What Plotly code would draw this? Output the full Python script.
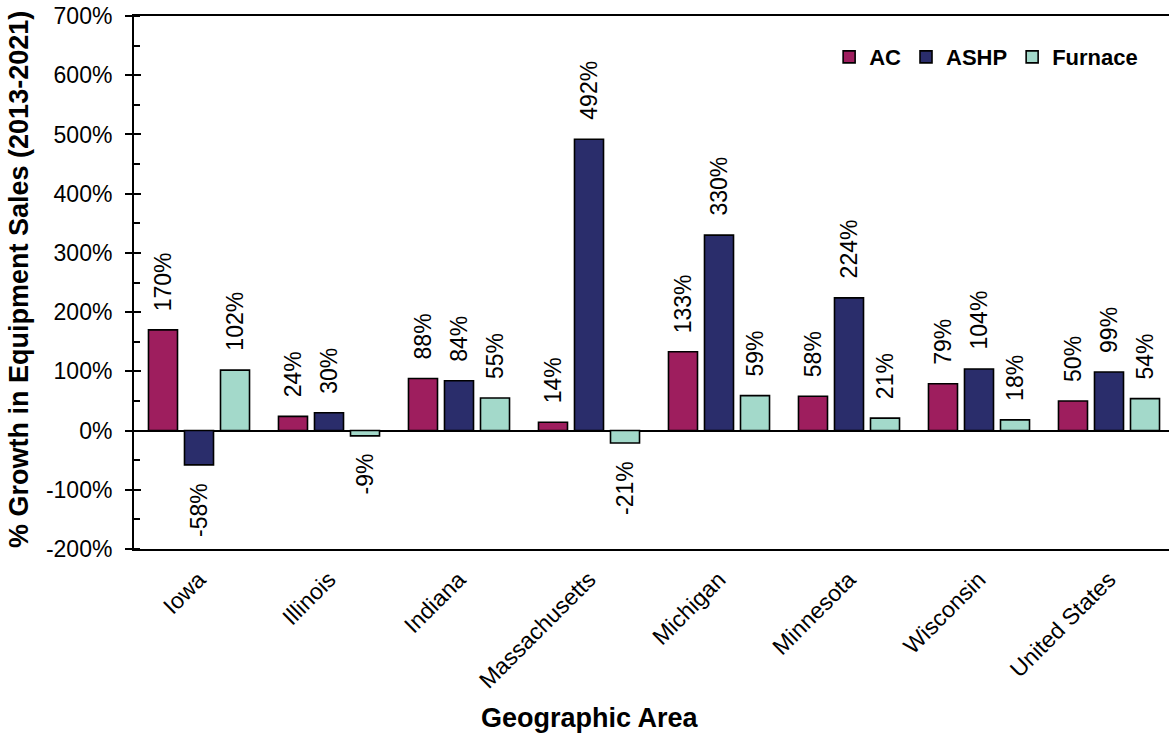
import plotly.graph_objects as go

# Growth in heating/cooling equipment sales, 2013-2021 (%)
areas = ["Iowa", "Illinois", "Indiana", "Massachusetts", "Michigan",
         "Minnesota", "Wisconsin", "United States"]
ac = [170, 24, 88, 14, 133, 58, 79, 50]
ashp = [-58, 30, 84, 492, 330, 224, 104, 99]
furnace = [102, -9, 55, -21, 59, 21, 18, 54]

series = [("AC", ac, "rgb(158,30,94)"),
          ("ASHP", ashp, "rgb(42,45,107)"),
          ("Furnace", furnace, "rgb(163,217,202)")]

y_ticks = list(range(-200, 701, 100))

FONT = "Arial, Liberation Sans, sans-serif"
BARGAP = 0.169
GROUPGAP = 0.194
slot = (1 - BARGAP) / len(series)

fig = go.Figure()
annotations = []
for i, (name, vals, color) in enumerate(series):
    fig.add_trace(go.Bar(
        name=name, x=areas, y=vals,
        marker=dict(color=color, line=dict(color="black", width=1.6)),
    ))
    offset = (i - (len(series) - 1) / 2) * slot
    for j, v in enumerate(vals):
        pos = v >= 0
        annotations.append(dict(
            x=j + offset, y=v, xref="x", yref="y",
            text=f"{v}%", textangle=-90, showarrow=False,
            xanchor="center", yanchor="bottom" if pos else "top",
            yshift=17 if pos else -16,
            font=dict(family=FONT, size=23, color="black"),
        ))

# Axis titles
annotations.append(dict(
    text="<b>Geographic Area</b>", x=0.441, y=-0.318, xref="paper", yref="paper",
    showarrow=False, xanchor="center", yanchor="middle",
    font=dict(family=FONT, size=27, color="black"),
))
annotations.append(dict(
    text="<b>% Growth in Equipment Sales (2013-2021)</b>", textangle=-90,
    x=-0.111, y=0.505, xref="paper", yref="paper",
    showarrow=False, xanchor="center", yanchor="middle",
    font=dict(family=FONT, size=27, color="black"),
))

fig.update_layout(
    width=1169, height=736,
    margin=dict(l=134, r=0, t=16, b=187),
    paper_bgcolor="white", plot_bgcolor="white",
    barmode="group", bargap=BARGAP, bargroupgap=GROUPGAP,
    font=dict(family=FONT, size=23, color="black"),
    showlegend=True,
    legend=dict(
        orientation="h", x=0.975, y=0.923, xanchor="right", yanchor="middle",
        font=dict(family=FONT, size=22, color="black", weight="bold"),
        bgcolor="rgba(0,0,0,0)", traceorder="normal",
    ),
    xaxis=dict(
        range=[-0.5, -0.5 + 1035 / 130], showgrid=False, zeroline=False,
        showline=True, linecolor="black", linewidth=2, mirror=True,
        ticks="", tickangle=-45, ticklabelstandoff=6,
        tickfont=dict(family=FONT, size=23, color="black"),
    ),
    yaxis=dict(
        range=[-200, 700], tickvals=y_ticks, ticktext=[f"{t}%" for t in y_ticks],
        showgrid=False, zeroline=True, zerolinecolor="black", zerolinewidth=2,
        showline=True, linecolor="black", linewidth=2,
        ticks="outside", ticklen=7, tickwidth=2, tickcolor="black",
        ticklabelstandoff=8,
        tickfont=dict(family=FONT, size=23, color="black"),
        minor=dict(dtick=50, tick0=-200, ticks="inside", ticklen=6,
                   tickwidth=2, tickcolor="black"),
    ),
    yaxis2=dict(
        range=[-200, 700], overlaying="y", side="left", tickvals=y_ticks,
        showticklabels=False, showgrid=False, zeroline=False, showline=False,
        ticks="inside", ticklen=7, tickwidth=2, tickcolor="black",
    ),
    annotations=annotations,
)

# Invisible trace so the inner half of the major ticks is drawn
fig.add_trace(go.Scatter(x=[areas[0]], y=[0], yaxis="y2", mode="markers",
                         marker=dict(opacity=0), showlegend=False,
                         hoverinfo="skip"))

fig.write_html("out.html")
